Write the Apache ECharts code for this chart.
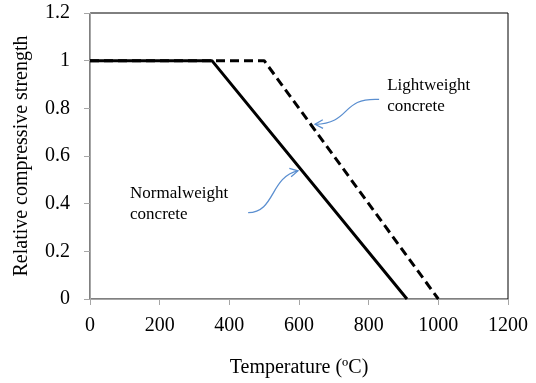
<!DOCTYPE html>
<html>
<head>
<meta charset="utf-8">
<script src="https://cdn.jsdelivr.net/npm/echarts@6/dist/echarts.min.js"></script>
<style>
  html, body { margin: 0; padding: 0; background: #fff; }
  #chart { width: 536px; height: 383px; }
</style>
</head>
<body>
<div id="chart"></div>
<script>
// data: temperature (C) vs relative compressive strength
var normalTemp = [0, 350, 910];
var normalStrength = [1, 1, 0];
var lightTemp = [0, 500, 1000];
var lightStrength = [1, 1, 0];

// annotation anchors, in data coords [temp, strength]
var lightLabelPos = [853, 0.85];
var lightArrowFrom = [830, 0.8375];
var lightArrowTo = [646, 0.733];
var normalLabelPos = [115, 0.40];
var normalArrowFrom = [454, 0.3625];
var normalArrowTo = [597, 0.5375];

var font = 'Liberation Serif, Times New Roman, serif';

function pairs(xs, ys) {
  return xs.map(function (x, i) { return [x, ys[i]] })
}

var chart = echarts.init(document.getElementById('chart'))
chart.setOption({
  animation: false,
  grid: {
    left: 90, top: 13, right: 28, bottom: 82,
    show: true, borderColor: '#000', borderWidth: 1
  },
  xAxis: {
    type: 'value', min: 0, max: 1200, interval: 200,
    name: 'Temperature (ºC)',
    nameLocation: 'middle', nameGap: 59,
    nameTextStyle: { fontFamily: font, fontSize: 20, color: '#000' },
    axisLine: { show: true, lineStyle: { color: '#a6a6a6', width: 1 } },
    axisTick: { show: true, length: 6, lineStyle: { color: '#a6a6a6' } },
    axisLabel: {
      margin: 17, fontFamily: font, fontSize: 20, color: '#000',
      formatter: function (v) { return String(v) }
    },
    splitLine: { show: false }
  },
  yAxis: {
    type: 'value', min: 0, max: 1.2, interval: 0.2,
    name: 'Relative compressive strength',
    nameLocation: 'middle', nameGap: 58,
    nameTextStyle: { fontFamily: font, fontSize: 20, color: '#000' },
    axisLine: { show: true, lineStyle: { color: '#a6a6a6', width: 1 } },
    axisTick: { show: true, length: 6, lineStyle: { color: '#a6a6a6' } },
    axisLabel: {
      margin: 20, fontFamily: font, fontSize: 20, color: '#000',
      formatter: function (v) { return String(+v.toFixed(1)) }
    },
    splitLine: { show: false }
  },
  series: [
    {
      name: 'Lightweight concrete', type: 'line', data: pairs(lightTemp, lightStrength),
      symbol: 'none', lineStyle: { color: '#000', width: 3, type: [9, 5] }, z: 2
    },
    {
      name: 'Normalweight concrete', type: 'line', data: pairs(normalTemp, normalStrength),
      symbol: 'none', lineStyle: { color: '#000', width: 3 }, z: 3
    }
  ]
})

// annotations with curved blue arrows
function px(p) { return chart.convertToPixel({ gridIndex: 0 }, p) }

function arrow(from, to, c1, c2) {
  var s = px(from), e = px(to)
  var cp1 = [s[0] + c1[0], s[1] + c1[1]]
  var cp2 = [e[0] + c2[0], e[1] + c2[1]]
  var dx = e[0] - cp2[0], dy = e[1] - cp2[1]
  var ang = Math.atan2(dy, dx), len = 9, spread = 0.5
  var h1 = [e[0] - len * Math.cos(ang - spread), e[1] - len * Math.sin(ang - spread)]
  var h2 = [e[0] - len * Math.cos(ang + spread), e[1] - len * Math.sin(ang + spread)]
  var st = { stroke: '#5b8fd0', lineWidth: 1.3, fill: null }
  return [
    { type: 'bezierCurve', shape: { x1: s[0], y1: s[1], x2: e[0], y2: e[1], cpx1: cp1[0], cpy1: cp1[1], cpx2: cp2[0], cpy2: cp2[1] }, style: st },
    { type: 'polyline', shape: { points: [h1, e, h2] }, style: st }
  ]
}

function label(pos, text) {
  var p = px(pos)
  return {
    type: 'text', x: p[0], y: p[1],
    style: { text: text, font: '17px ' + font, fill: '#000', lineHeight: 21, verticalAlign: 'middle' }
  }
}

chart.setOption({
  graphic: [].concat(
    arrow(lightArrowFrom, lightArrowTo, [-39, -2], [37, -1]),
    arrow(normalArrowFrom, normalArrowTo, [27, 0], [-28, 6]),
    [label(lightLabelPos, 'Lightweight\nconcrete'), label(normalLabelPos, 'Normalweight\nconcrete')]
  )
})
</script>
</body>
</html>
